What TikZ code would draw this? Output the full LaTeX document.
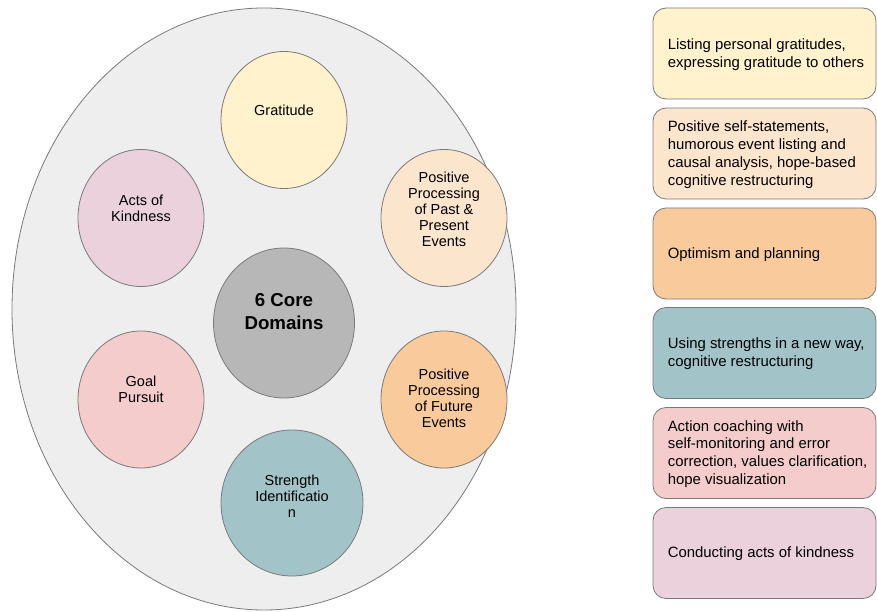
\documentclass[tikz,border=0pt]{standalone}
\usepackage{fontspec}
\setmainfont{Liberation Sans}
\usetikzlibrary{shapes.geometric}
\definecolor{bggray}{HTML}{EEEEEE}
\definecolor{edge}{HTML}{7A7A7A}
\definecolor{cyellow}{HTML}{FFF2CC}
\definecolor{cpeach}{HTML}{FCE5CD}
\definecolor{corange}{HTML}{F9CB9C}
\definecolor{cteal}{HTML}{A2C4C9}
\definecolor{cpink}{HTML}{F4CCCC}
\definecolor{cmauve}{HTML}{EAD1DC}
\definecolor{cgray}{HTML}{B7B7B7}
\tikzset{
  dom/.style={ellipse, draw=edge, line width=0.8pt, inner sep=0pt, minimum width=126pt, minimum height=137pt},
  domtxt/.style={inner sep=0pt, align=center, font=\fontsize{14.5pt}{16pt}\selectfont},
  panel/.style={rectangle, rounded corners=13pt, draw=edge, line width=0.8pt, inner sep=0pt, minimum width=223pt, minimum height=91pt},
  paneltxt/.style={inner sep=0pt, align=left, anchor=west, font=\fontsize{14.9pt}{17.8pt}\selectfont}
}
\begin{document}
\begin{tikzpicture}[x=1pt,y=-1pt]
\useasboundingbox (0,0) rectangle (877,612);
\fill[white] (0,0) rectangle (877,612);
% outer ellipse
\node[ellipse, draw=edge, line width=0.8pt, fill=bggray, inner sep=0pt, minimum width=504pt, minimum height=602pt] (outer) at (264,309) {};
% domain circles
\node[dom, fill=cyellow] (grat) at (284,120) {};
\node[domtxt] (gratT) at (284,110) {Gratitude};
\node[dom, fill=cmauve] (kind) at (141,218) {};
\node[domtxt] (kindT) at (141,208) {Acts of\\Kindness};
\node[dom, fill=cpeach] (past) at (444,218) {};
\node[domtxt] (pastT) at (444,209) {Positive\\Processing\\of Past \&\\Present\\Events};
\node[dom, fill=cgray, minimum width=141pt, minimum height=150pt] (core) at (284,323) {};
\node[inner sep=0pt, align=center, font=\bfseries\fontsize{18.7pt}{23pt}\selectfont] (coreT) at (284,312) {6 Core\\Domains};
\node[dom, fill=cpink] (goal) at (141,399.5) {};
\node[domtxt] (goalT) at (141,389) {Goal\\Pursuit};
\node[dom, fill=corange] (fut) at (444,399.5) {};
\node[domtxt] (futT) at (444,398) {Positive\\Processing\\of Future\\Events};
\node[dom, fill=cteal, minimum width=142pt, minimum height=146pt] (str) at (292,503) {};
\node[domtxt] (strT) at (292,496) {Strength\\Identificatio\\n};
% right panels
\node[panel, fill=cyellow] (p1) at (764.5,53.5) {};
\node[paneltxt] (p1T) at ([xshift=15pt,yshift=-1pt]p1.west) {Listing personal gratitudes,\\expressing gratitude to others};
\node[panel, fill=cpeach] (p2) at (764.5,153.5) {};
\node[paneltxt] (p2T) at ([xshift=15pt,yshift=-1pt]p2.west) {Positive self-statements,\\humorous event listing and\\causal analysis, hope-based\\cognitive restructuring};
\node[panel, fill=corange] (p3) at (764.5,253.5) {};
\node[paneltxt] (p3T) at ([xshift=15pt,yshift=-1pt]p3.west) {Optimism and planning};
\node[panel, fill=cteal] (p4) at (764.5,353) {};
\node[paneltxt] (p4T) at ([xshift=15pt,yshift=-1pt]p4.west) {Using strengths in a new way,\\cognitive restructuring};
\node[panel, fill=cpink] (p5) at (764.5,453) {};
\node[paneltxt] (p5T) at ([xshift=15pt,yshift=-1pt]p5.west) {Action coaching with\\self-monitoring and error\\correction, values clarification,\\hope visualization};
\node[panel, fill=cmauve] (p6) at (764.5,553) {};
\node[paneltxt] (p6T) at ([xshift=15pt,yshift=-1pt]p6.west) {Conducting acts of kindness};
\end{tikzpicture}
\end{document}
